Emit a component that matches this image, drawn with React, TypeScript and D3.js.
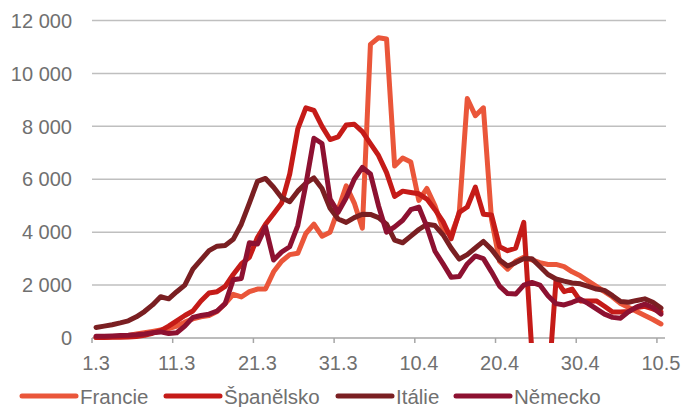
import React from "react";
import * as d3 from "d3";

const W = 683;
const H = 407;

// Daily categories: 1.3.2020 – 10.5.2020
const startDate = new Date(2020, 2, 1);
const endDate = new Date(2020, 4, 11);
const fmt = d3.timeFormat("%-d.%-m");
const categories: string[] = d3.timeDay.range(startDate, endDate).map((d) => fmt(d));

const tickLabels = ["1.3", "11.3", "21.3", "31.3", "10.4", "20.4", "30.4", "10.5"];
const yTicks = [0, 2000, 4000, 6000, 8000, 10000, 12000];

const francie = [
  20, 30, 50, 60, 100, 150, 200, 250, 300, 350,
  450, 600, 720, 800, 850, 1000, 1300, 1650, 1550, 1750,
  1850, 1850, 2500, 2900, 3150, 3200, 3950, 4300, 3850, 4000,
  4850, 5750, 5100, 4150, 11100, 11350, 11300, 6500, 6800, 6650,
  5200, 5650, 5000, 4100, 3900, 4700, 9050, 8400, 8700, 4500,
  2900, 2600, 2900, 3050, 2950, 2850, 2780, 2780, 2700, 2500,
  2350, 2150, 1950, 1750, 1550, 1300, 1150, 1000, 850, 700, 530,
];

const spanelsko = [
  20, 20, 25, 30, 40, 60, 100, 180, 280, 450,
  650, 850, 1020, 1400, 1700, 1750, 1950, 2400, 2800, 3050,
  3800, 4300, 4700, 5100, 6200, 7900, 8700, 8600, 8000, 7500,
  7600, 8050, 8080, 7800, 7350, 6900, 6250, 5350, 5550, 5500,
  5450, 5250, 4850, 4400, 3750, 4750, 4950, 5700, 4680, 4650,
  3450, 3300, 3400, 4370, -500, -1500, -2000, 2200, 1750, 1850,
  1400, 1400, 1400, 1200, 980, 980, 1000, 1150, 1200, 1100, 980,
];

const italie = [
  400, 450, 500, 570, 650, 800, 1000, 1250, 1560, 1480,
  1750, 2000, 2600, 2950, 3300, 3470, 3500, 3730, 4300, 5100,
  5920, 6030, 5700, 5300, 5150, 5550, 5850, 6050, 5650, 4900,
  4500, 4370, 4550, 4680, 4670, 4550, 4300, 3700, 3600, 3850,
  4100, 4300, 4250, 3900, 3400, 2980, 3150, 3400, 3650, 3350,
  2950, 2720, 2850, 3000, 3000, 2700, 2400, 2230, 2150, 2080,
  2050, 1950, 1850, 1800, 1600, 1380, 1350, 1420, 1480, 1350, 1130,
];

const nemecko = [
  70, 70, 80, 90, 100, 120, 150, 200, 230, 170,
  200, 450, 780, 850, 900, 1020, 1300, 2200, 2250, 3600,
  3550, 4200, 2950, 3250, 3450, 4250, 5800, 7550, 7350, 5250,
  4750, 5300, 6000, 6450, 6200, 5000, 4000, 4200, 4450, 4850,
  4950, 4200, 3280, 2800, 2300, 2320, 2800, 3100, 3000, 2500,
  1960, 1680, 1660, 2000, 2100, 2000, 1600, 1300, 1250, 1350,
  1470, 1300, 1100, 900, 780, 750, 1000, 1180, 1280, 1150, 900,
];

const seriesNames = ["Francie", "Španělsko", "Itálie", "Německo"];
const seriesValues = [francie, spanelsko, italie, nemecko];
const seriesColors = ["#EA563A", "#C51B18", "#7A1F22", "#8D1131"];

const FONT = "'Liberation Sans', Arial, sans-serif";
const TEXT = "#707070";

export default function App() {
  const x = d3.scaleBand<string>().domain(categories).range([92, 665]).padding(0);
  const y = d3.scaleLinear().domain([0, 12000]).range([338, 20.5]);
  const bw = x.bandwidth();

  const line = d3
    .line<number>()
    .x((_, i) => (x(categories[i]) as number) + bw / 2)
    .y((v) => y(v));

  const legendX = [22, 166, 338, 456];

  return (
    <svg
      width={W}
      height={H}
      style={{ position: "absolute", left: 0, top: 0, background: "#fff" }}
      fontFamily={FONT}
    >
      <defs>
        <clipPath id="plot">
          <rect x={86} y={10} width={590} height={333} />
        </clipPath>
      </defs>
      {yTicks.map((t) =>
        t === 0 ? null : (
          <line key={"g" + t} x1={92} x2={666} y1={y(t)} y2={y(t)} stroke="#BFBFBF" strokeWidth={1.5} />
        )
      )}
      {yTicks.map((t) => (
        <text
          key={"yl" + t}
          x={72}
          y={y(t)}
          dy="0.36em"
          textAnchor="end"
          fontSize={20}
          fill={TEXT}
        >
          {d3.format(",")(t).replace(/,/g, " ")}
        </text>
      ))}
      <line x1={92} x2={665} y1={y(0)} y2={y(0)} stroke="#A6A6A6" strokeWidth={1.5} />
      {tickLabels.map((lab) => {
        const xs = x(lab) as number;
        return (
          <g key={"xt" + lab}>
            <line x1={xs} x2={xs} y1={y(0)} y2={y(0) + 5} stroke="#A6A6A6" strokeWidth={1.5} />
            <text x={xs + bw / 2} y={370} textAnchor="middle" fontSize={20} fill={TEXT}>
              {lab}
            </text>
          </g>
        );
      })}
      <g clipPath="url(#plot)">
        {seriesValues.map((vals, i) => (
          <path
            key={seriesNames[i]}
            d={line(vals) || ""}
            fill="none"
            stroke={seriesColors[i]}
            strokeWidth={5}
            strokeLinejoin="round"
            strokeLinecap="round"
          />
        ))}
      </g>
      {seriesNames.map((name, i) => (
        <g key={"lg" + name}>
          <line
            x1={legendX[i]}
            x2={legendX[i] + 54}
            y1={396}
            y2={396}
            stroke={seriesColors[i]}
            strokeWidth={5}
            strokeLinecap="round"
          />
          <text x={legendX[i] + 58} y={404} fontSize={20.5} fill={TEXT}>
            {name}
          </text>
        </g>
      ))}
    </svg>
  );
}
